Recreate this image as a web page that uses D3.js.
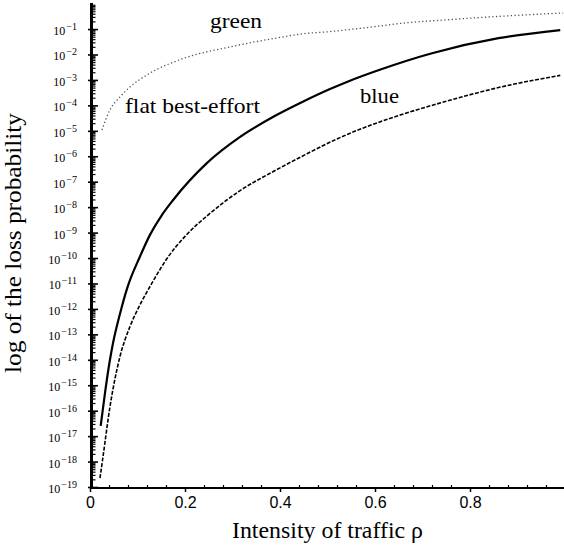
<!DOCTYPE html>
<html>
<head>
<meta charset="utf-8">
<script src="https://cdn.jsdelivr.net/npm/d3@7"></script>
<style>
  html, body { margin: 0; padding: 0; background: #fff; }
  svg { display: block; }
  .serif { font-family: "Liberation Serif", "DejaVu Serif", serif; }
  .sans { font-family: "Liberation Sans", "DejaVu Sans", sans-serif; }
</style>
</head>
<body>
<svg id="chart" width="564" height="548"></svg>
<script>
// ---------- data (log10 of loss probability vs traffic intensity) ----------
const greenRho  = [0.025, 0.042, 0.063, 0.084, 0.12, 0.19, 0.295, 0.40, 0.442, 0.505, 0.61, 0.653, 0.75, 0.863, 0.996];
const greenLog  = [-4.97, -4.18, -3.67, -3.28, -2.80, -2.20, -1.70, -1.33, -1.20, -1.10, -0.88, -0.78, -0.64, -0.50, -0.37];

const flatRho   = [0.0225, 0.0316, 0.042, 0.0484, 0.063, 0.078, 0.105, 0.126, 0.15, 0.175, 0.246, 0.316, 0.386, 0.449, 0.504, 0.546, 0.61, 0.72, 0.86, 0.99];
const flatLog   = [-16.6, -15.3, -14.0, -13.35, -12.2, -11.2, -9.95, -9.1, -8.35, -7.72, -6.27, -5.24, -4.45, -3.85, -3.37, -3.04, -2.60, -1.95, -1.36, -1.04];

const blueRho   = [0.021, 0.027, 0.042, 0.063, 0.084, 0.105, 0.13, 0.161, 0.20, 0.246, 0.288, 0.316, 0.386, 0.457, 0.52, 0.61, 0.653, 0.75, 0.86, 0.99];
const blueLog   = [-18.65, -17.86, -15.85, -13.88, -12.70, -11.85, -11.0, -10.05, -9.15, -8.35, -7.72, -7.35, -6.60, -5.90, -5.32, -4.65, -4.38, -3.84, -3.30, -2.82];

const xTickValues = [0, 0.2, 0.4, 0.6, 0.8];
const xTickLabels = ["0", "0.2", "0.4", "0.6", "0.8"];
const yExponents  = [-1, -2, -3, -4, -5, -6, -7, -8, -9, -10, -11, -12, -13, -14, -15, -16, -17, -18, -19];

const seriesLabels = ["green", "flat best-effort", "blue"];
const xTitle = "Intensity of traffic \u03C1";
const yTitle = "log of the loss probability";

// ---------- layout ----------
const svg = d3.select("#chart");
const x = d3.scaleLinear().domain([0, 1]).range([90, 565]);
const y = d3.scaleLog().domain([1e-19, 1]).range([487, 3.6]);

// ---------- curves ----------
const line = d3.line()
  .x(d => x(d[0]))
  .y(d => y(Math.pow(10, d[1])))
  .curve(d3.curveMonotoneX);

const zipS = (a, b) => a.map((v, i) => [v, b[i]]);

svg.append("path")
  .datum(zipS(greenRho, greenLog))
  .attr("d", line)
  .attr("fill", "none")
  .attr("stroke", "#555")
  .attr("stroke-width", 1.3)
  .attr("stroke-dasharray", "1.3,2.4");

svg.append("path")
  .datum(zipS(flatRho, flatLog))
  .attr("d", line)
  .attr("fill", "none")
  .attr("stroke", "#000")
  .attr("stroke-width", 2.2);

svg.append("path")
  .datum(zipS(blueRho, blueLog))
  .attr("d", line)
  .attr("fill", "none")
  .attr("stroke", "#000")
  .attr("stroke-width", 1.6)
  .attr("stroke-dasharray", "4,1.6");

// ---------- y axis ----------
const majorVals = yExponents.map(e => Math.pow(10, e));
const minorVals = [];
yExponents.forEach(e => {
  for (let k = 2; k <= 9; k++) minorVals.push(k * Math.pow(10, e));
});

const yMinor = svg.append("g")
  .attr("transform", "translate(92,0)")
  .call(d3.axisRight(y).tickValues(minorVals).tickSize(3.5).tickFormat(""));
yMinor.select(".domain").remove();
yMinor.selectAll("line").attr("stroke-width", 1.2);

const yMajor = svg.append("g")
  .attr("transform", "translate(92,0)")
  .call(d3.axisRight(y).tickValues(majorVals).tickSize(6).tickFormat(""));
yMajor.select(".domain").remove();
yMajor.selectAll("line").attr("stroke-width", 1.6).attr("x1", -4);

svg.append("line")
  .attr("x1", 91.5).attr("x2", 91.5)
  .attr("y1", 3).attr("y2", 489)
  .attr("stroke", "#000").attr("stroke-width", 3);

const yLab = svg.append("g");
yExponents.forEach(e => {
  const t = yLab.append("text")
    .attr("class", "serif")
    .attr("x", 77)
    .attr("y", y(Math.pow(10, e)) + 6)
    .attr("text-anchor", "end")
    .style("font-size", "12px")
    .attr("fill", "#000");
  t.append("tspan").text("10");
  t.append("tspan").attr("dy", -5).attr("dx", 1).style("font-size", "10px").text("\u2212" + Math.abs(e));
});

// ---------- x axis ----------
const xMinorVals = d3.range(0, 1.0001, 0.04).filter(v => xTickValues.every(t => Math.abs(t - v) > 1e-6));
const xMinor = svg.append("g")
  .attr("transform", "translate(0,488)")
  .call(d3.axisTop(x).tickValues(xMinorVals).tickSize(3).tickFormat(""));
xMinor.select(".domain").remove();
xMinor.selectAll("line").attr("stroke-width", 1.2);

const xMajor = svg.append("g")
  .attr("transform", "translate(0,488)")
  .call(d3.axisBottom(x).tickValues(xTickValues).tickSize(4).tickPadding(4)
        .tickFormat((d, i) => xTickLabels[i]));
xMajor.select(".domain").remove();
xMajor.attr("font-family", null).attr("font-size", null);
xMajor.selectAll("line").attr("stroke-width", 1.5);
xMajor.selectAll("text")
  .attr("class", "sans")
  .style("font-size", "16px")
  .attr("fill", "#000")
  .attr("dy", "0.72em");

svg.append("line")
  .attr("x1", 90).attr("x2", 564)
  .attr("y1", 488).attr("y2", 488)
  .attr("stroke", "#000").attr("stroke-width", 2.2);

// ---------- titles ----------
svg.append("text")
  .attr("class", "serif")
  .attr("x", 232).attr("y", 538)
  .attr("textLength", 191)
  .attr("lengthAdjust", "spacingAndGlyphs")
  .style("font-size", "23px")
  .attr("fill", "#000")
  .text(xTitle);

svg.append("text")
  .attr("class", "serif")
  .attr("transform", "translate(21,373) rotate(-90)")
  .attr("textLength", 260)
  .attr("lengthAdjust", "spacingAndGlyphs")
  .style("font-size", "24px")
  .attr("fill", "#000")
  .text(yTitle);

// ---------- series labels ----------
const labelPos = [[210, 28, 52], [125, 113, 135], [360, 103, 39]];
seriesLabels.forEach((s, i) => {
  svg.append("text")
    .attr("class", "serif")
    .attr("x", labelPos[i][0]).attr("y", labelPos[i][1])
    .attr("textLength", labelPos[i][2])
    .attr("lengthAdjust", "spacingAndGlyphs")
    .style("font-size", "22px")
    .attr("fill", "#000")
    .text(s);
});
</script>
</body>
</html>
